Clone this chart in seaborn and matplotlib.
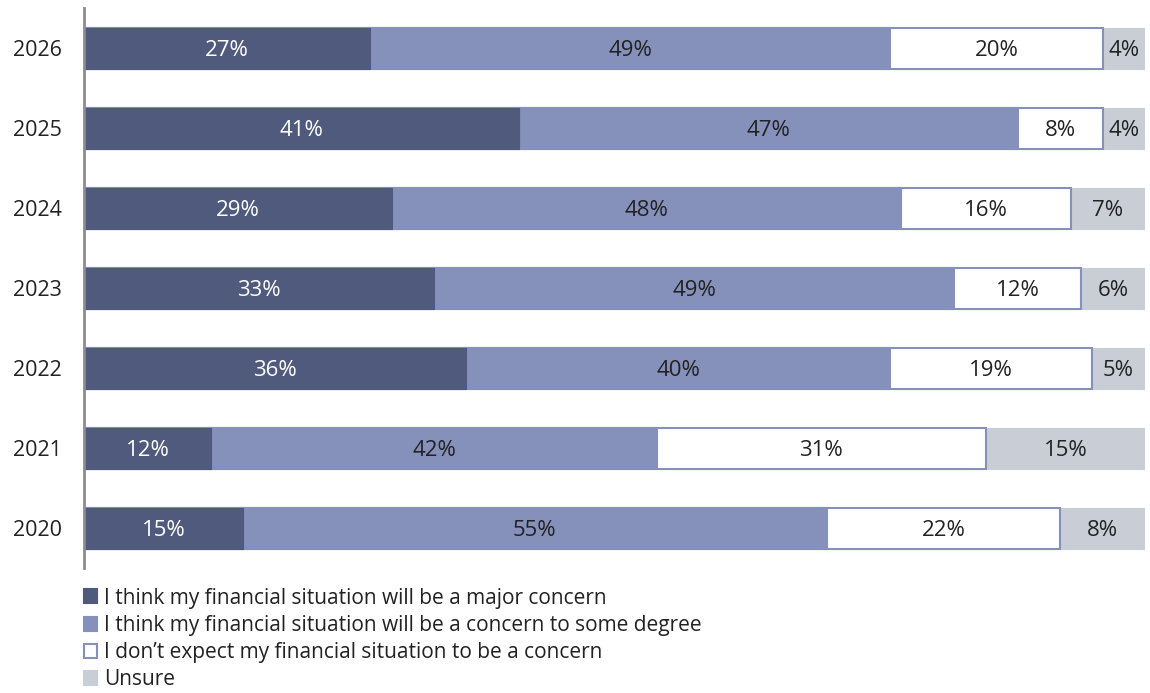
import numpy as np
import pandas as pd
import matplotlib
matplotlib.use("Agg")
import matplotlib.pyplot as plt
from matplotlib.patches import Patch
import seaborn as sns

years = ["2026", "2025", "2024", "2023", "2022", "2021", "2020"]
major = [27, 41, 29, 33, 36, 12, 15]
some_degree = [49, 47, 48, 49, 40, 42, 55]
no_concern = [20, 8, 16, 12, 19, 31, 22]
unsure = [4, 4, 7, 6, 5, 15, 8]

series_names = [
    "I think my financial situation will be a major concern",
    "I think my financial situation will be a concern to some degree",
    "I don\u2019t expect my financial situation to be a concern",
    "Unsure",
]
series_vals = [major, some_degree, no_concern, unsure]
fills = ["#4F5A7D", "#8591BA", "#FFFFFF", "#C8CDD6"]
edges = ["#4F5A7D", "#8591BA", "#8591BA", "#C8CDD6"]
text_colors = ["white", "#222222", "#222222", "#222222"]

sns.set_theme(style="white")
plt.rcParams["font.family"] = ["Open Sans", "DejaVu Sans"]

df = pd.DataFrame({"year": years})
starts = []
cum = np.zeros(len(years))
for name, vals in zip(series_names, series_vals):
    starts.append(cum.copy())
    cum = cum + np.array(vals)
    df[name] = cum.copy()

fig = plt.figure(figsize=(11.5, 6.93), dpi=100)
ax = fig.add_axes([0.073, 0.180, 0.9227, 0.808])

# draw cumulative bars from back to front so they appear stacked
for i in range(len(series_names) - 1, -1, -1):
    sns.barplot(data=df, x=series_names[i], y="year", order=years,
                color=fills[i], saturation=1, width=0.51, ax=ax,
                edgecolor=edges[i], linewidth=1.5 if i in (1, 2) else 0.8)

ax.set_xlim(0, 100)
ax.set_ylim(6.5, -0.5)
ax.set_xlabel("")
ax.set_ylabel("")
ax.set_xticks([])
ax.tick_params(axis="y", length=0, pad=16, labelsize=15.5, labelcolor="#222222")
for s in ["top", "right", "bottom"]:
    ax.spines[s].set_visible(False)
ax.spines["left"].set_color("#8C8C8C")
ax.spines["left"].set_linewidth(2)

# data labels
for i, vals in enumerate(series_vals):
    for j, v in enumerate(vals):
        x = starts[i][j] + v / 2
        ax.text(x, j, f"{v}%", ha="center", va="center_baseline",
                fontsize=16, color=text_colors[i])

handles = [Patch(facecolor=fills[k], edgecolor=edges[k], linewidth=1.5)
           for k in range(4)]
fig.legend(handles, series_names, loc="upper left",
           bbox_to_anchor=(0.073, 0.152), frameon=False, fontsize=15,
           handlelength=0.65, handleheight=0.65, handletextpad=0.3,
           labelspacing=0.30, borderaxespad=0, borderpad=0,
           labelcolor="#222222")

fig.savefig("out.png", dpi=100)
